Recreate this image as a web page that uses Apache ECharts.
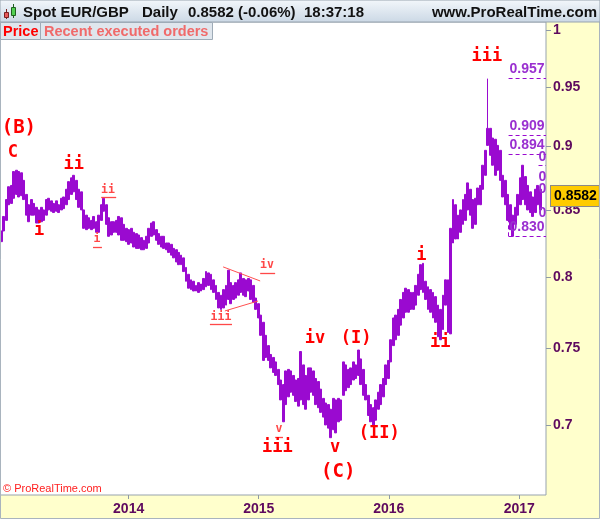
<!DOCTYPE html>
<html>
<head>
<meta charset="utf-8">
<title>Spot EUR/GBP Daily</title>
<script src="https://cdn.jsdelivr.net/npm/echarts@6.0.0/dist/echarts.min.js"></script>
<style>
  html, body { margin: 0; padding: 0; }
  #chart { width: 600px; height: 519px; }
</style>
</head>
<body>
<div id="chart"></div>
<script>
// weekly low / high of Spot EUR/GBP, one entry per week, first week centred on Wed 2013-01-09
const firstWeek = '2013-01-09';
const weekLows = [
  0.826, 0.834, 0.842, 0.854, 0.855, 0.859, 0.862, 0.860, 0.861, 0.858,
  0.846, 0.841, 0.846, 0.846, 0.840, 0.840, 0.841, 0.842, 0.846, 0.850,
  0.849, 0.848, 0.849, 0.848, 0.850, 0.851, 0.854, 0.858, 0.862, 0.864,
  0.858, 0.852, 0.850, 0.836, 0.835, 0.836, 0.835, 0.836, 0.833, 0.833,
  0.842, 0.849, 0.839, 0.830, 0.831, 0.833, 0.833, 0.831, 0.827, 0.827,
  0.826, 0.824, 0.825, 0.822, 0.821, 0.821, 0.820, 0.820, 0.821, 0.825,
  0.830, 0.831, 0.827, 0.824, 0.822, 0.821, 0.820, 0.818, 0.816, 0.814,
  0.811, 0.809, 0.809, 0.804, 0.797, 0.792, 0.791, 0.790, 0.790, 0.789,
  0.790, 0.791, 0.793, 0.794, 0.791, 0.789, 0.784, 0.778, 0.777, 0.778,
  0.780, 0.784, 0.781, 0.784, 0.785, 0.787, 0.789, 0.787, 0.786, 0.790,
  0.784, 0.782, 0.777, 0.771, 0.759, 0.742, 0.744, 0.742, 0.737, 0.734,
  0.732, 0.726, 0.716, 0.702, 0.713, 0.718, 0.721, 0.719, 0.715, 0.712,
  0.716, 0.713, 0.710, 0.716, 0.721, 0.719, 0.713, 0.711, 0.708, 0.705,
  0.700, 0.698, 0.692, 0.697, 0.695, 0.702, 0.703, 0.719, 0.722, 0.724,
  0.726, 0.729, 0.730, 0.732, 0.726, 0.719, 0.716, 0.706, 0.702, 0.700,
  0.703, 0.710, 0.713, 0.718, 0.726, 0.730, 0.741, 0.752, 0.756, 0.759,
  0.766, 0.771, 0.775, 0.775, 0.777, 0.777, 0.780, 0.787, 0.791, 0.789,
  0.784, 0.777, 0.775, 0.771, 0.768, 0.758, 0.756, 0.763, 0.780, 0.761,
  0.760, 0.825, 0.828, 0.828, 0.833, 0.839, 0.842, 0.850, 0.846, 0.836,
  0.839, 0.854, 0.854, 0.866, 0.877, 0.901, 0.893, 0.885, 0.877, 0.881,
  0.873, 0.860, 0.854, 0.842, 0.835, 0.830, 0.839, 0.846, 0.854, 0.858,
  0.854, 0.850, 0.848, 0.845, 0.848, 0.854, 0.850
];
const weekHighs = [
  0.834, 0.845, 0.858, 0.868, 0.869, 0.880, 0.881, 0.880, 0.879, 0.873,
  0.862, 0.854, 0.858, 0.855, 0.852, 0.850, 0.852, 0.850, 0.858, 0.859,
  0.857, 0.855, 0.857, 0.854, 0.859, 0.860, 0.866, 0.872, 0.875, 0.877,
  0.873, 0.866, 0.864, 0.850, 0.846, 0.844, 0.842, 0.845, 0.841, 0.846,
  0.854, 0.859, 0.854, 0.844, 0.841, 0.841, 0.842, 0.845, 0.844, 0.839,
  0.836, 0.835, 0.836, 0.833, 0.832, 0.831, 0.829, 0.827, 0.830, 0.836,
  0.840, 0.841, 0.835, 0.832, 0.830, 0.830, 0.825, 0.825, 0.824, 0.821,
  0.820, 0.818, 0.816, 0.814, 0.807, 0.802, 0.798, 0.797, 0.794, 0.796,
  0.795, 0.799, 0.804, 0.803, 0.802, 0.798, 0.794, 0.789, 0.787, 0.791,
  0.794, 0.805, 0.796, 0.794, 0.796, 0.798, 0.803, 0.799, 0.798, 0.799,
  0.798, 0.794, 0.785, 0.781, 0.773, 0.768, 0.759, 0.752, 0.746, 0.744,
  0.741, 0.736, 0.729, 0.726, 0.735, 0.736, 0.735, 0.732, 0.729, 0.730,
  0.748, 0.739, 0.732, 0.737, 0.737, 0.735, 0.730, 0.728, 0.723, 0.717,
  0.714, 0.713, 0.710, 0.717, 0.716, 0.717, 0.716, 0.741, 0.739, 0.736,
  0.737, 0.741, 0.739, 0.749, 0.743, 0.736, 0.726, 0.719, 0.713, 0.711,
  0.716, 0.721, 0.726, 0.730, 0.739, 0.742, 0.756, 0.771, 0.773, 0.777,
  0.784, 0.789, 0.792, 0.791, 0.789, 0.789, 0.794, 0.802, 0.809, 0.810,
  0.797, 0.793, 0.791, 0.789, 0.786, 0.780, 0.777, 0.787, 0.798, 0.798,
  0.836, 0.858, 0.854, 0.846, 0.850, 0.858, 0.862, 0.871, 0.866, 0.858,
  0.859, 0.867, 0.869, 0.885, 0.897, 0.915, 0.915, 0.907, 0.906, 0.901,
  0.897, 0.877, 0.873, 0.862, 0.854, 0.846, 0.852, 0.862, 0.875, 0.885,
  0.876, 0.869, 0.864, 0.860, 0.866, 0.869, 0.866
];

// single days that stick far out of their week (7 Oct 2016 flash crash)
const spikeDays = ['2016-10-07'];
const spikeHighs = [0.957];

const lastPrice = 0.8582;
const yTicks = [0.7, 0.75, 0.8, 0.85, 0.9, 0.95, 1];
const yearTicks = ['2014-01-01', '2015-01-01', '2016-01-01', '2017-01-01'];

// wave counts: text, date, price, size
const waveLabels = [
  ['(B)', '2013-02-27', 0.9153, 'big'],
  ['C', '2013-02-10', 0.8949, 'mid'],
  ['ii', '2013-07-31', 0.8852, 'mid'],
  ['i', '2013-04-25', 0.8340, 'mid'],
  ['ii', '2013-11-04', 0.8655, 'small'],
  ['i', '2013-10-04', 0.8276, 'small'],
  ['iii', '2014-09-17', 0.7717, 'small'],
  ['iv', '2015-01-24', 0.8088, 'small'],
  ['v', '2015-02-27', 0.6975, 'small'],
  ['iii', '2015-02-22', 0.6860, 'mid'],
  ['iv', '2015-06-08', 0.7565, 'mid'],
  ['(I)', '2015-10-01', 0.7565, 'mid'],
  ['v', '2015-08-03', 0.6860, 'mid'],
  ['(C)', '2015-08-12', 0.6710, 'big'],
  ['(II)', '2015-12-05', 0.6947, 'mid'],
  ['i', '2016-04-01', 0.8158, 'mid'],
  ['ii', '2016-05-24', 0.7538, 'mid'],
  ['iii', '2016-10-02', 0.9762, 'mid']
];

// underlines of the small counts and the triangle of the minor wave iv
const underlines = [
  [['2013-10-16', 0.8600], ['2013-11-27', 0.8600]],
  [['2013-09-23', 0.8221], ['2013-10-18', 0.8221]],
  [['2014-08-17', 0.7668], ['2014-10-18', 0.7668]],
  [['2015-01-05', 0.8030], ['2015-02-16', 0.8030]],
  [['2015-02-16', 0.6925], ['2015-03-10', 0.6925]]
];
const triangle = [
  [['2014-09-23', 0.8074], ['2015-01-05', 0.7972]],
  [['2014-09-28', 0.7759], ['2014-12-30', 0.7829]]
];

// price levels at the right edge, and the levels whose labels are cut by the frame
const levels = [0.957, 0.909, 0.894, 0.830];
const levelStart = '2016-12-02';
const cutLevels = [0.8917, 0.8757, 0.8663, 0.8477];
const cutLevelDate = '2017-03-07';
const axisStart = '2013-01-05';
const axisEnd = '2017-03-17';

const DAY = 86400000;
const T = (s) => Date.parse(s + 'T00:00:00Z');
const L = Math.log; // the price scale is logarithmic

const purple = '#9a0ad0';
const axisText = '#5e0a5e';
const red = '#ff0000';
const lightRed = '#ff4848';

const t0 = T(firstWeek);
const weekWickHigh = weekHighs.slice();
spikeDays.forEach((d, k) => {
  const i = Math.round((T(d) - t0) / (7 * DAY));
  weekWickHigh[i] = Math.max(weekWickHigh[i], spikeHighs[k]);
});
const weekBars = weekLows.map((lo, i) => [t0 + i * 7 * DAY, L(lo), L(weekHighs[i]), L(lo), L(weekWickHigh[i])]);

const sizeStyle = {
  big: { fontSize: 19, color: red },
  mid: { fontSize: 17, color: red },
  small: { fontSize: 11.5, color: lightRed }
};

const markPoints = waveLabels.map(([text, d, p, size]) => ({
  name: text,
  coord: [T(d), L(p)],
  symbolSize: 0,
  label: {
    show: true,
    position: 'inside',
    formatter: text,
    fontFamily: 'DejaVu Sans Mono',
    fontWeight: 'bold',
    fontSize: sizeStyle[size].fontSize,
    color: sizeStyle[size].color
  }
}));
cutLevels.forEach((v) => markPoints.push({
  name: '0',
  coord: [T(cutLevelDate), L(v)],
  symbolSize: 0,
  label: {
    show: true,
    position: 'inside',
    formatter: '0',
    fontFamily: 'Liberation Sans',
    fontWeight: 'bold',
    fontSize: 14,
    color: '#9a30d0'
  }
}));

const seg = (pair, style) => [
  { coord: [T(pair[0][0]), L(pair[0][1])], lineStyle: style, label: { show: false } },
  { coord: [T(pair[1][0]), L(pair[1][1])] }
];

const dashed = { color: purple, width: 1, type: [4, 3] };
const markLines = [];
underlines.forEach((u) => markLines.push(seg(u, { color: lightRed, width: 1.3, type: 'solid' })));
triangle.forEach((u) => markLines.push(seg(u, { color: '#ff5050', width: 1, type: 'solid' })));
levels.forEach((v) => {
  markLines.push([
    {
      coord: [T(levelStart), L(v)],
      lineStyle: dashed,
      label: {
        show: true,
        position: 'insideStartTop',
        distance: [1, 2],
        formatter: v.toFixed(3),
        color: '#9a30d0',
        fontFamily: 'Liberation Sans',
        fontWeight: 'bold',
        fontSize: 14
      }
    },
    { coord: [T(axisEnd), L(v)] }
  ]);
});
markLines.push(seg([[levelStart, levels[3]], [levelStart, 0.852]], dashed));
markLines.push(seg([['2017-02-24', 0.8852], [axisEnd, 0.8852]], dashed));
markLines.push({
  yAxis: L(lastPrice),
  lineStyle: { color: 'rgba(0,0,0,0)', width: 0 },
  label: {
    show: true,
    position: 'end',
    distance: 5,
    formatter: lastPrice.toFixed(4),
    color: '#000',
    fontFamily: 'Liberation Sans',
    fontWeight: 'bold',
    fontSize: 14,
    lineHeight: 14,
    backgroundColor: '#ffcc00',
    borderColor: '#8a8a8a',
    borderWidth: 1,
    padding: [3, 2, 3, 3]
  }
});

const headFont = 'bold 15px "Liberation Sans"';
const tabFont = 'bold 14.5px "Liberation Sans"';

const chart = echarts.init(document.getElementById('chart'), null, { renderer: 'canvas' });
chart.setOption({
  animation: false,
  backgroundColor: '#ffffcc',
  textStyle: { fontFamily: 'Liberation Sans' },
  grid: {
    left: 0, right: 54, top: 22, bottom: 24,
    containLabel: false,
    outerBoundsMode: 'none',
    show: true,
    backgroundColor: '#ffffff',
    borderColor: '#97a3ae',
    borderWidth: 1
  },
  xAxis: {
    type: 'value',
    min: T(axisStart),
    max: T(axisEnd),
    axisLine: { show: false, onZero: false },
    splitLine: { show: false },
    axisTick: { show: true, customValues: yearTicks.map(T), length: 4, lineStyle: { color: '#8d99a6' } },
    axisLabel: {
      customValues: yearTicks.map(T),
      formatter: (v) => String(new Date(v).getUTCFullYear()),
      color: axisText,
      fontWeight: 'bold',
      fontSize: 14,
      margin: 7
    }
  },
  yAxis: {
    type: 'value',
    position: 'right',
    min: L(0.6571),
    max: L(1.0072),
    axisLine: { show: false, onZero: false },
    splitLine: { show: false },
    axisTick: { show: true, customValues: yTicks.map(L), length: 5, lineStyle: { color: '#8d99a6' } },
    axisLabel: {
      customValues: yTicks.map(L),
      formatter: (v) => String(+Math.exp(v).toFixed(2)),
      color: axisText,
      fontWeight: 'bold',
      fontSize: 14,
      margin: 7
    }
  },
  series: [
    {
      name: 'Spot EUR/GBP',
      type: 'candlestick',
      barWidth: 2.4,
      encode: { x: 0, y: [1, 2, 3, 4] },
      itemStyle: { color: purple, color0: purple, borderColor: purple, borderColor0: purple, borderWidth: 1 },
      data: weekBars
    },
    {
      name: 'notes',
      type: 'line',
      data: [],
      clip: false,
      silent: true,
      markPoint: { symbol: 'circle', symbolSize: 0, itemStyle: { color: 'rgba(0,0,0,0)' }, data: markPoints },
      markLine: { symbol: ['none', 'none'], silent: true, data: markLines }
    }
  ],
  graphic: [
    // header bar
    {
      type: 'rect', z: 100, shape: { x: 0, y: 0, width: 600, height: 22 },
      style: {
        fill: new echarts.graphic.LinearGradient(0, 0, 0, 1, [
          { offset: 0, color: '#f3f7fb' }, { offset: 1, color: '#cbd8e5' }
        ]),
        stroke: '#97a3ae', lineWidth: 1
      }
    },
    { type: 'line', z: 101, shape: { x1: 6.5, y1: 9, x2: 6.5, y2: 19 }, style: { stroke: '#7a2020', lineWidth: 1 } },
    { type: 'rect', z: 102, shape: { x: 4.5, y: 12.5, width: 4, height: 5 }, style: { fill: '#e85a5a', stroke: '#7a2020', lineWidth: 1 } },
    { type: 'line', z: 101, shape: { x1: 13.5, y1: 4, x2: 13.5, y2: 18 }, style: { stroke: '#206020', lineWidth: 1 } },
    { type: 'rect', z: 102, shape: { x: 11.5, y: 7.5, width: 4, height: 8 }, style: { fill: '#52d052', stroke: '#206020', lineWidth: 1 } },
    { type: 'text', z: 103, x: 23, y: 13, style: { text: 'Spot EUR/GBP', font: headFont, fill: '#111', verticalAlign: 'middle' } },
    { type: 'text', z: 103, x: 142, y: 13, style: { text: 'Daily', font: headFont, fill: '#111', verticalAlign: 'middle' } },
    { type: 'text', z: 103, x: 188, y: 13, style: { text: '0.8582 (-0.06%)', font: headFont, fill: '#111', verticalAlign: 'middle' } },
    { type: 'text', z: 103, x: 304, y: 13, style: { text: '18:37:18', font: headFont, fill: '#111', verticalAlign: 'middle' } },
    { type: 'text', z: 103, x: 597, y: 13, style: { text: 'www.ProRealTime.com', font: headFont, fill: '#111', align: 'right', verticalAlign: 'middle' } },
    // tabs
    {
      type: 'rect', z: 100, shape: { x: 0.5, y: 22.5, width: 40, height: 17 },
      style: { fill: '#dfe6ed', stroke: '#9eabb7', lineWidth: 1 }
    },
    {
      type: 'rect', z: 100, shape: { x: 40.5, y: 22.5, width: 172, height: 17 },
      style: { fill: '#dfe6ed', stroke: '#9eabb7', lineWidth: 1 }
    },
    { type: 'text', z: 103, x: 3, y: 31.5, style: { text: 'Price', font: tabFont, fill: '#ff0000', verticalAlign: 'middle' } },
    { type: 'text', z: 103, x: 44, y: 31.5, style: { text: 'Recent executed orders', font: tabFont, fill: '#f06a6a', verticalAlign: 'middle' } },
    // copyright
    { type: 'text', z: 103, x: 3, y: 488.5, style: { text: '\u00a9 ProRealTime.com', font: '11px "Liberation Sans"', fill: '#ff2020', verticalAlign: 'middle' } },
    // outer frame
    {
      type: 'rect', z: 99, shape: { x: 0.5, y: 0.5, width: 599, height: 518 },
      style: { fill: 'none', stroke: '#a9b4be', lineWidth: 1 }
    }
  ]
});
</script>
</body>
</html>
